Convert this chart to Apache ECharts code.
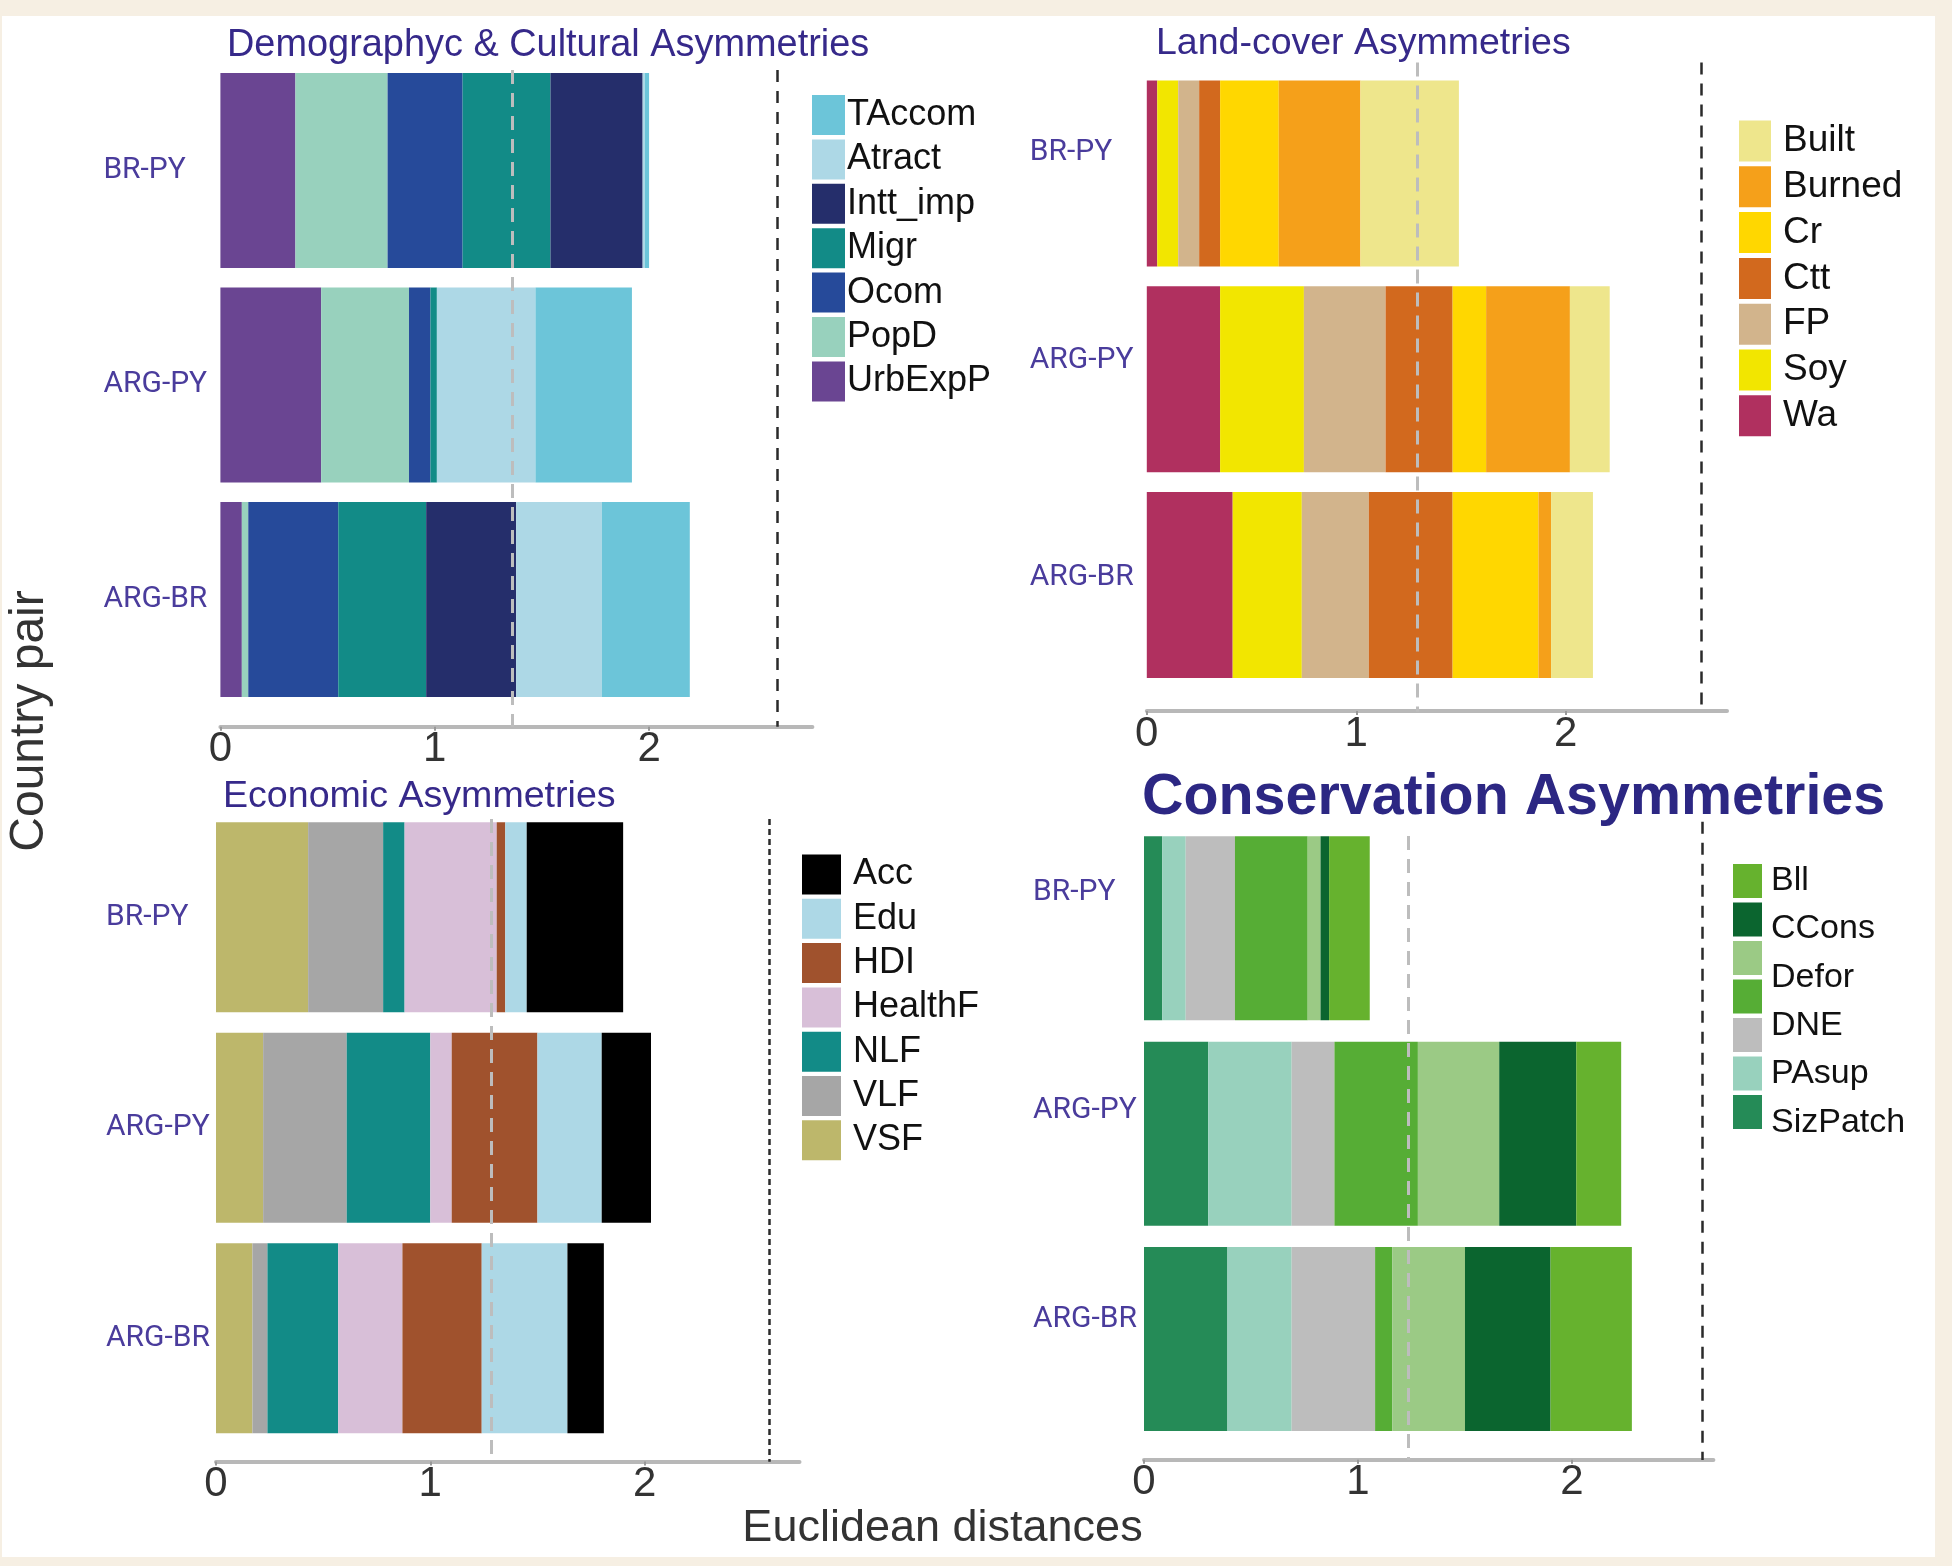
<!DOCTYPE html>
<html>
<head>
<meta charset="utf-8">
<script src="https://cdn.jsdelivr.net/npm/echarts@6/dist/echarts.min.js"></script>
<style>
html,body{margin:0;padding:0;background:#f6efe3;}
#chart{width:1952px;height:1566px;}
</style>
</head>
<body>
<div id="chart"></div>
<script>
// ---------------- DATA ----------------
const pairs = ['BR-PY', 'ARG-PY', 'ARG-BR'];
const ticks = [0, 1, 2];

// Demographic & Cultural (stack order left -> right)
const demoNames = ['UrbExpP', 'PopD', 'Ocom', 'Migr', 'Intt_imp', 'Atract', 'TAccom'];
const UrbExpP  = [0.35, 0.47, 0.10];
const PopD     = [0.43, 0.41, 0.03];
const Ocom     = [0.35, 0.10, 0.42];
const Migr     = [0.41, 0.03, 0.41];
const Intt_imp = [0.43, 0.00, 0.42];
const Atract   = [0.01, 0.46, 0.40];
const TAccom   = [0.02, 0.45, 0.41];
const demoThresholds = [1.36, 2.60];

// Land-cover
const landNames = ['Wa', 'Soy', 'FP', 'Ctt', 'Cr', 'Burned', 'Built'];
const Wa     = [0.05, 0.35, 0.41];
const Soy    = [0.10, 0.40, 0.33];
const FP     = [0.10, 0.39, 0.32];
const Ctt    = [0.10, 0.32, 0.40];
const Cr     = [0.28, 0.16, 0.41];
const Burned = [0.39, 0.40, 0.06];
const Built  = [0.47, 0.19, 0.20];
const landThresholds = [1.29, 2.645];

// Economic
const econNames = ['VSF', 'VLF', 'NLF', 'HealthF', 'HDI', 'Edu', 'Acc'];
const VSF     = [0.43, 0.22, 0.17];
const VLF     = [0.35, 0.39, 0.07];
const NLF     = [0.10, 0.39, 0.33];
const HealthF = [0.43, 0.10, 0.30];
const HDI     = [0.04, 0.40, 0.37];
const Edu     = [0.10, 0.30, 0.40];
const Acc     = [0.45, 0.23, 0.17];
const econThresholds = [1.286, 2.583];

// Conservation (one green series has no label in the original legend)
const consNames = ['SizPatch', 'PAsup', 'DNE', 'Unlabelled', 'Defor', 'CCons', 'Bll'];
const consLabels = ['Bll', 'CCons', 'Defor', 'DNE', 'PAsup', 'SizPatch'];
const SizPatch   = [0.085, 0.30, 0.39];
const PAsup      = [0.11, 0.39, 0.30];
const DNE        = [0.23, 0.20, 0.39];
const Unlabelled = [0.34, 0.39, 0.08];
const Defor      = [0.06, 0.38, 0.34];
const CCons      = [0.04, 0.36, 0.40];
const Bll        = [0.19, 0.21, 0.38];
const consThresholds = [1.236, 2.61];

// ---------------- STYLE ----------------
const FONT = "'Liberation Sans', Arial, sans-serif";
const LABFONT = "Roboto, 'Liberation Sans', sans-serif";
const TITLE_COLOR = '#36298a';
const LABEL_COLOR = '#4a3c9c';

const demoColors = ['#6a4592', '#98d1bd', '#264a9a', '#128b87', '#252e6b', '#add8e6', '#6cc5d9'];
const landColors = ['#b0305f', '#f2e600', '#d2b48c', '#d2691e', '#ffd700', '#f5a01a', '#eee68c'];
const econColors = ['#bdb76b', '#a6a6a6', '#128b87', '#d8bfd8', '#a0522d', '#add8e6', '#000000'];
const consColors = ['#258b57', '#98d1bd', '#bdbdbd', '#56ad35', '#9bca85', '#0b652f', '#66b22e'];

const panels = [
  { names: demoNames, values: [UrbExpP, PopD, Ocom, Migr, Intt_imp, Atract, TAccom], colors: demoColors,
    thr: demoThresholds, grid: {left: 220.4, top: 63.2, width: 592, height: 643.5}, max: 2.762, offset: 20,
    axisY: 726.7, lineTop: [70, 70], barW: 195, margin: 117, labOff: [0, 0, 0], blackDash: [12, 9] },
  { names: landNames, values: [Wa, Soy, FP, Ctt, Cr, Burned, Built], colors: landColors,
    thr: landThresholds, grid: {left: 1146.8, top: 70.5, width: 580.2, height: 617.5}, max: 2.77, offset: 23,
    axisY: 711.5, lineTop: [62.5, 62.5], barW: 186, margin: 117, labOff: [21, 19, 8], blackDash: [12, 9] },
  { names: econNames, values: [VSF, VLF, NLF, HealthF, HDI, Edu, Acc], colors: econColors,
    thr: econThresholds, grid: {left: 216, top: 812, width: 583.5, height: 631.5}, max: 2.723, offset: 18,
    axisY: 1461.8, lineTop: [819, 819], barW: 190, margin: 110, labOff: [0, 0, 0], blackDash: [6, 4] },
  { names: consNames, values: [SizPatch, PAsup, DNE, Unlabelled, Defor, CCons, Bll], colors: consColors,
    thr: consThresholds, grid: {left: 1144, top: 825.7, width: 569.4, height: 616}, max: 2.661, offset: 18,
    axisY: 1460, lineTop: [836, 821.7], barW: 184, margin: 111, labOff: [36, 23, 20], blackDash: [12, 9] }
];

const grids = [], xAxes = [], yAxes = [], series = [];
panels.forEach((p, gi) => {
  grids.push(Object.assign({outerBoundsMode: 'none', containLabel: false}, p.grid));
  xAxes.push({
    gridIndex: gi, type: 'value', min: 0, max: p.max, interval: 1, offset: p.offset,
    axisLine: {show: true, lineStyle: {color: '#b8b8b8', width: 4}},
    axisTick: {show: true, length: 4, lineStyle: {color: '#999', width: 2}},
    splitLine: {show: false},
    axisLabel: {fontSize: 42, color: '#333', fontFamily: FONT, margin: 2, showMaxLabel: false,
      formatter: v => (ticks.indexOf(v) >= 0 ? String(v) : '')}
  });
  const rich = {};
  p.labOff.forEach((o, i) => {
    rich['l' + i] = {fontSize: 30, color: LABEL_COLOR, fontFamily: LABFONT, padding: [0, 0, 2 * o, 0]};
  });
  yAxes.push({
    gridIndex: gi, type: 'category', data: pairs, inverse: true,
    axisLine: {show: false}, axisTick: {show: false}, splitLine: {show: false},
    axisLabel: {align: 'left', margin: p.margin, fontSize: 30, color: LABEL_COLOR, fontFamily: LABFONT,
      formatter: (v, i) => '{l' + i + '|' + v + '}', rich: rich}
  });
  p.names.forEach((n, i) => {
    const s = {
      name: n, type: 'bar', stack: 'panel' + gi, xAxisIndex: gi, yAxisIndex: gi,
      data: p.values[i], barWidth: p.barW, itemStyle: {color: p.colors[i]},
      emphasis: {disabled: true}
    };
    if (i === p.names.length - 1) {
      s.markLine = {
        silent: true, symbol: ['none', 'none'], label: {show: false}, animation: false,
        data: [
          [{xAxis: p.thr[0], y: p.lineTop[0], lineStyle: {color: '#bdbdbd', width: 3, type: [14, 9]}},
           {xAxis: p.thr[0], y: p.axisY}],
          [{xAxis: p.thr[1], y: p.lineTop[1], lineStyle: {color: '#2a2a2a', width: 2.5, type: p.blackDash}},
           {xAxis: p.thr[1], y: p.axisY}]
        ]
      };
    }
    series.push(s);
  });
});

const legendText = (size, lh, padL) => ({fontSize: size, color: '#111', fontFamily: FONT, lineHeight: lh, padding: [0, 0, 0, padL]});

const option = {
  animation: false,
  backgroundColor: '#f6efe3',
  title: [
    {text: 'Demographyc & Cultural Asymmetries', left: 227, top: 26.5, padding: 0,
      textStyle: {fontSize: 37.9, fontWeight: 'normal', color: TITLE_COLOR, fontFamily: FONT}},
    {text: 'Land-cover Asymmetries', left: 1156, top: 25, padding: 0,
      textStyle: {fontSize: 37.5, fontWeight: 'normal', color: TITLE_COLOR, fontFamily: FONT}},
    {text: 'Economic Asymmetries', left: 223, top: 777.5, padding: 0,
      textStyle: {fontSize: 37.6, fontWeight: 'normal', color: TITLE_COLOR, fontFamily: FONT}},
    {text: 'Conservation Asymmetries', left: 1142, top: 770, padding: 0,
      textStyle: {fontSize: 57.4, fontWeight: 'bold', color: '#2c2783', fontFamily: FONT}}
  ],
  legend: [
    {orient: 'vertical', left: 812, top: 95, padding: 0, icon: 'rect', itemWidth: 33, itemHeight: 40, itemGap: 4.4,
      selectedMode: false, data: demoNames.slice().reverse(), textStyle: legendText(36, 40, -3)},
    {orient: 'vertical', left: 1739, top: 120.5, padding: 0, icon: 'rect', itemWidth: 32, itemHeight: 41, itemGap: 4.8,
      selectedMode: false, data: landNames.slice().reverse(), textStyle: legendText(37, 41, 7)},
    {orient: 'vertical', left: 802, top: 854.5, padding: 0, icon: 'rect', itemWidth: 39, itemHeight: 40, itemGap: 4.3,
      selectedMode: false, data: econNames.slice().reverse(), textStyle: legendText(36, 40, 7)},
    {orient: 'vertical', left: 1733, top: 864, padding: 0, icon: 'rect', itemWidth: 29, itemHeight: 34, itemGap: 4.5,
      selectedMode: false, data: consNames.slice().reverse(), formatter: () => '',
      textStyle: {fontSize: 10, lineHeight: 10}},
    {orient: 'vertical', left: 1765, top: 857.5, padding: 0, icon: 'rect', itemWidth: 1, itemHeight: 46, itemGap: 2.4,
      selectedMode: false, data: consLabels, itemStyle: {opacity: 0},
      textStyle: legendText(34, 46, 0)}
  ],
  grid: grids,
  xAxis: xAxes,
  yAxis: yAxes,
  series: series,
  graphic: [
    {type: 'rect', silent: true, z: -100, shape: {x: 2, y: 16, width: 1933, height: 1541}, style: {fill: '#ffffff'}},
    {type: 'text', silent: true, x: 30, y: 721, rotation: Math.PI / 2,
      style: {text: 'Country pair', fontSize: 48, fill: '#333', fontFamily: FONT, align: 'center', verticalAlign: 'middle'}},
    {type: 'text', silent: true, x: 942.5, y: 1529,
      style: {text: 'Euclidean distances', fontSize: 45, fill: '#333', fontFamily: FONT, align: 'center', verticalAlign: 'middle'}}
  ]
};

const chart = echarts.init(document.getElementById('chart'), null, {renderer: 'canvas'});
chart.setOption(option);
</script>
</body>
</html>
